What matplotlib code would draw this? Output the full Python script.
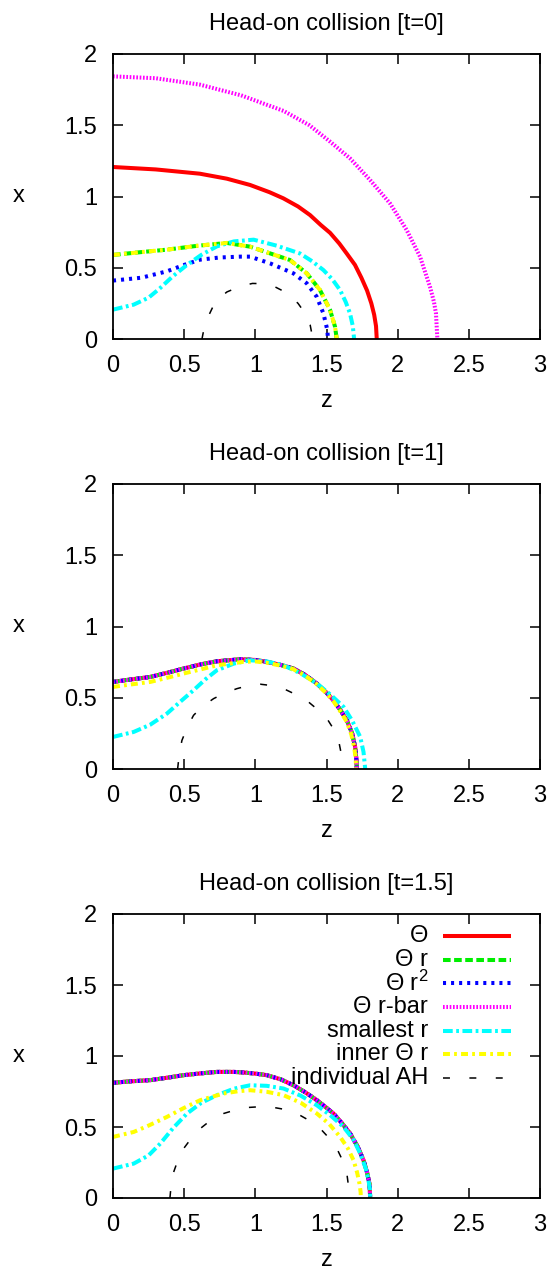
import matplotlib
matplotlib.use("Agg")
import matplotlib.pyplot as plt

plt.rcParams['font.family'] = ['Liberation Sans', 'DejaVu Sans']
plt.rcParams['mathtext.fontset'] = 'custom'
plt.rcParams['mathtext.rm'] = 'Liberation Sans'
plt.rcParams['mathtext.it'] = 'Liberation Sans:italic'
plt.rcParams['lines.scale_dashes'] = False

# ---------------- data ----------------
titles = ["Head-on collision [t=0]", "Head-on collision [t=1]", "Head-on collision [t=1.5]"]
labels = ["Θ", "Θ r", "Θ r$^2$", "Θ r-bar", "smallest r", "inner Θ r", "individual AH"]
xticks = [0, 0.5, 1, 1.5, 2, 2.5, 3]
xticklabels = ["0", "0.5", "1", "1.5", "2", "2.5", "3"]
yticks = [0, 0.5, 1, 1.5, 2]
yticklabels = ["0", "0.5", "1", "1.5", "2"]

# t = 0
t0_theta_z = [0, 0.3, 0.61, 0.8, 0.963, 1.1, 1.197, 1.3, 1.384, 1.46, 1.525, 1.59, 1.642, 1.70, 1.745, 1.785, 1.815, 1.835, 1.848, 1.853]
t0_theta_x = [1.207, 1.19, 1.16, 1.125, 1.081, 1.03, 0.987, 0.93, 0.870, 0.80, 0.745, 0.67, 0.60, 0.52, 0.43, 0.34, 0.25, 0.17, 0.09, 0.0]
t0_thetar_z = [0, 0.2, 0.379, 0.6, 0.80, 0.963, 1.103, 1.244, 1.361, 1.454, 1.525, 1.56, 1.572]
t0_thetar_x = [0.59, 0.61, 0.627, 0.655, 0.674, 0.648, 0.601, 0.554, 0.461, 0.344, 0.204, 0.086, 0.0]
t0_thetar2_z = [0, 0.2, 0.379, 0.5, 0.613, 0.75, 0.894, 0.963, 1.103, 1.267, 1.361, 1.431, 1.478, 1.506, 1.51]
t0_thetar2_x = [0.41, 0.43, 0.475, 0.52, 0.557, 0.572, 0.578, 0.578, 0.531, 0.461, 0.391, 0.297, 0.18, 0.063, 0.0]
t0_rbar_z = [0, 0.3, 0.61, 0.9, 1.2, 1.38, 1.525, 1.665, 1.806, 1.946, 2.063, 2.157, 2.227, 2.255, 2.269, 2.279]
t0_rbar_x = [1.843, 1.83, 1.785, 1.71, 1.60, 1.50, 1.385, 1.268, 1.116, 0.952, 0.765, 0.578, 0.367, 0.26, 0.18, 0.0]
t0_small_z = [0, 0.145, 0.25, 0.332, 0.42, 0.52, 0.62, 0.73, 0.85, 0.988, 1.15, 1.314, 1.40, 1.478, 1.54, 1.595, 1.635, 1.665, 1.685, 1.694]
t0_small_x = [0.206, 0.241, 0.29, 0.358, 0.44, 0.52, 0.59, 0.65, 0.685, 0.697, 0.655, 0.60, 0.545, 0.484, 0.42, 0.344, 0.26, 0.18, 0.09, 0.0]
t0_inner_z = [0, 0.2, 0.379, 0.6, 0.80, 0.963, 1.103, 1.244, 1.361, 1.454, 1.525, 1.56, 1.572]
t0_inner_x = [0.59, 0.61, 0.627, 0.655, 0.674, 0.648, 0.601, 0.554, 0.461, 0.344, 0.204, 0.086, 0.0]
t0_ah_z = [0.625, 0.645, 0.675, 0.72, 0.80, 0.894, 0.98, 1.058, 1.14, 1.222, 1.30, 1.35, 1.385, 1.404]
t0_ah_x = [0.0, 0.10, 0.17, 0.264, 0.33, 0.37, 0.39, 0.388, 0.365, 0.323, 0.25, 0.18, 0.10, 0.0]

# t = 1
t1_main_z = [0, 0.1, 0.262, 0.4, 0.496, 0.62, 0.73, 0.894, 1.0, 1.081, 1.18, 1.268, 1.35, 1.432, 1.50, 1.549, 1.60, 1.643, 1.68, 1.701, 1.71, 1.713]
t1_main_x = [0.611, 0.625, 0.646, 0.68, 0.705, 0.735, 0.756, 0.77, 0.765, 0.752, 0.73, 0.705, 0.66, 0.60, 0.535, 0.482, 0.41, 0.342, 0.25, 0.155, 0.07, 0.0]
t1_inner_z = [0, 0.1, 0.262, 0.4, 0.496, 0.62, 0.73, 0.917, 1.0, 1.081, 1.18, 1.268, 1.35, 1.432, 1.50, 1.549, 1.60, 1.643, 1.675, 1.695, 1.705, 1.708]
t1_inner_x = [0.576, 0.59, 0.611, 0.645, 0.67, 0.70, 0.728, 0.752, 0.755, 0.745, 0.725, 0.70, 0.655, 0.595, 0.53, 0.475, 0.40, 0.33, 0.24, 0.15, 0.07, 0.0]
t1_small_z = [0, 0.145, 0.26, 0.379, 0.47, 0.566, 0.65, 0.73, 0.85, 0.964, 1.08, 1.198, 1.32, 1.432, 1.53, 1.62, 1.68, 1.737, 1.76, 1.772]
t1_small_x = [0.225, 0.26, 0.31, 0.389, 0.47, 0.553, 0.63, 0.693, 0.74, 0.763, 0.755, 0.728, 0.67, 0.60, 0.52, 0.436, 0.34, 0.225, 0.12, 0.0]
t1_ah_z = [0.454, 0.465, 0.484, 0.52, 0.566, 0.63, 0.707, 0.79, 0.871, 0.95, 1.035, 1.12, 1.198, 1.29, 1.374, 1.44, 1.503, 1.55, 1.585, 1.605, 1.615]
t1_ah_x = [0.0, 0.1, 0.2, 0.29, 0.377, 0.44, 0.494, 0.535, 0.564, 0.585, 0.595, 0.585, 0.564, 0.52, 0.47, 0.415, 0.354, 0.28, 0.2, 0.1, 0.0]

# t = 1.5
t15_main_z = [0, 0.1, 0.262, 0.4, 0.496, 0.62, 0.73, 0.85, 0.917, 1.0, 1.081, 1.18, 1.268, 1.35, 1.432, 1.50, 1.549, 1.61, 1.666, 1.72, 1.76, 1.785, 1.802, 1.807]
t15_main_x = [0.811, 0.82, 0.83, 0.85, 0.865, 0.878, 0.888, 0.888, 0.884, 0.876, 0.865, 0.835, 0.794, 0.745, 0.689, 0.635, 0.595, 0.525, 0.454, 0.36, 0.266, 0.18, 0.10, 0.0]
t15_small_z = [0, 0.145, 0.25, 0.332, 0.42, 0.52, 0.62, 0.73, 0.85, 0.964, 1.08, 1.198, 1.32, 1.432, 1.53, 1.62, 1.69, 1.737, 1.775, 1.795, 1.805, 1.807]
t15_small_x = [0.207, 0.242, 0.30, 0.383, 0.49, 0.595, 0.67, 0.724, 0.77, 0.794, 0.79, 0.771, 0.72, 0.653, 0.58, 0.5, 0.41, 0.313, 0.21, 0.125, 0.06, 0.0]
t15_inner_z = [0, 0.145, 0.25, 0.379, 0.5, 0.613, 0.777, 0.88, 0.964, 1.08, 1.198, 1.32, 1.432, 1.52, 1.596, 1.65, 1.69, 1.715, 1.732, 1.74, 1.741]
t15_inner_x = [0.43, 0.465, 0.51, 0.571, 0.635, 0.689, 0.736, 0.752, 0.759, 0.748, 0.724, 0.67, 0.595, 0.52, 0.43, 0.35, 0.266, 0.18, 0.10, 0.04, 0.0]
t15_ah_z = [0.40, 0.414, 0.45, 0.496, 0.55, 0.613, 0.69, 0.777, 0.86, 0.941, 1.02, 1.105, 1.2, 1.292, 1.38, 1.456, 1.52, 1.573, 1.615, 1.643, 1.655, 1.66]
t15_ah_x = [0.0, 0.148, 0.25, 0.348, 0.42, 0.489, 0.55, 0.595, 0.62, 0.637, 0.642, 0.642, 0.625, 0.595, 0.545, 0.489, 0.42, 0.348, 0.26, 0.172, 0.08, 0.0]

# ---------------- styles ----------------
styles = [
    dict(color='#ff0000', lw=2.9, ls='-'),
    dict(color='#00ee00', lw=2.9, ls=(0, (5.5, 2.5))),
    dict(color='#0000ff', lw=2.9, ls=(0, (2.2, 3.6))),
    dict(color='#ff00ff', lw=2.9, ls=(0, (1.2, 1.2))),
    dict(color='#00ffff', lw=2.9, ls=(0, (7, 2.5, 2, 2.5))),
    dict(color='#ffff00', lw=2.9, ls=(0, (5, 3, 2, 3))),
    dict(color='#000000', lw=1.1, ls=(0, (5, 14))),
]

panels = [
    [(t0_theta_z, t0_theta_x), (t0_thetar_z, t0_thetar_x), (t0_thetar2_z, t0_thetar2_x),
     (t0_rbar_z, t0_rbar_x), (t0_small_z, t0_small_x), (t0_inner_z, t0_inner_x), (t0_ah_z, t0_ah_x)],
    [(t1_main_z, t1_main_x), (t1_main_z, t1_main_x), (t1_main_z, t1_main_x),
     (t1_main_z, t1_main_x), (t1_small_z, t1_small_x), (t1_inner_z, t1_inner_x), (t1_ah_z, t1_ah_x)],
    [(t15_main_z, t15_main_x), (t15_main_z, t15_main_x), (t15_main_z, t15_main_x),
     (t15_main_z, t15_main_x), (t15_small_z, t15_small_x), (t15_inner_z, t15_inner_x), (t15_ah_z, t15_ah_x)],
]

W, H = 551, 1269
fig = plt.figure(figsize=(W / 100, H / 100), dpi=100)
FS = 17
ax_px = [(113, 54, 540, 339), (113, 484, 540, 769), (113, 914, 540, 1198)]

for i, (l, t, r, b) in enumerate(ax_px):
    ax = fig.add_axes([l / W, 1 - b / H, (r - l) / W, (b - t) / H])
    for (zs, xs), st in zip(panels[i], styles):
        ax.plot(zs, xs, color=st['color'], lw=st['lw'], ls=st['ls'], solid_capstyle='butt')
    ax.set_xlim(0, 3)
    ax.set_ylim(0, 2)
    ax.set_xticks(xticks)
    ax.set_xticklabels(xticklabels)
    ax.set_yticks(yticks)
    ax.set_yticklabels(yticklabels)
    ax.tick_params(direction='in', length=7.2, width=1.1, top=True, right=True,
                   labelsize=FS, pad=11.5, color='black')
    for s in ax.spines.values():
        s.set_linewidth(1.3)
    ax.set_title(titles[i], fontsize=FS, pad=17)
    ax.set_xlabel('z', fontsize=FS)
    ax.xaxis.set_label_coords(0.5, -0.179)
    ax.set_ylabel('x', fontsize=FS, rotation=0, ha='center', va='center')
    ax.yaxis.set_label_coords(-0.22, 0.5)

    if i == 2:
        y0 = 0.923
        dy = 0.0835
        for k, (lab, st) in enumerate(zip(labels, styles)):
            yy = y0 - k * dy
            ax.text(0.738, yy, lab, transform=ax.transAxes, ha='right', va='center', fontsize=FS)
            ax.plot([0.773, 0.932], [yy, yy], transform=ax.transAxes, color=st['color'],
                    lw=st['lw'], ls=st['ls'], solid_capstyle='butt')

fig.savefig('out.png', dpi=100)
